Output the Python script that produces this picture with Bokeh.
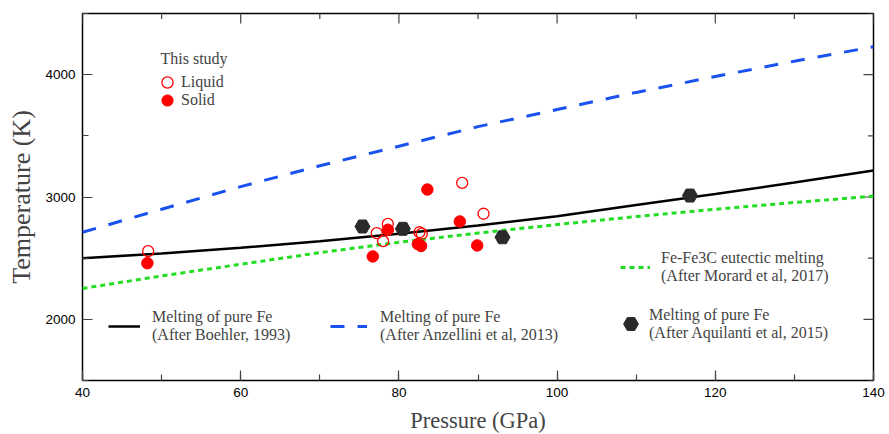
import math
from bokeh.plotting import figure
from bokeh.models import Range1d, SingleIntervalTicker, Legend, LegendItem, ColumnDataSource, Label
from bokeh.embed import file_html
from bokeh.resources import INLINE

# ---- data ----
curve_p = [40, 50, 60, 70, 80, 90, 100, 110, 120, 130, 140]
boehler_t = [2500, 2539, 2585, 2639, 2699, 2767, 2843, 2935, 3025, 3118, 3217]
anzellini_t = [2712, 2900, 3085, 3255, 3415, 3575, 3715, 3855, 3985, 4110, 4228]
morard_t = [2252, 2355, 2450, 2545, 2630, 2705, 2775, 2840, 2900, 2955, 3007]

liquid_p = [48.3, 77.2, 78.0, 78.6, 82.6, 82.9, 88.0, 90.7]
liquid_t = [2557, 2704, 2639, 2780, 2712, 2700, 3115, 2863]

solid_p = [48.2, 76.7, 78.6, 82.4, 82.8, 83.6, 87.7, 89.9]
solid_t = [2459, 2514, 2732, 2615, 2600, 3061, 2800, 2604]

aquilanti_p = [75.4, 80.5, 93.1, 116.8]
aquilanti_t = [2759, 2740, 2671, 3012]

x_major = [40, 60, 80, 100, 120, 140]
x_minor = [50, 70, 90, 110, 130]
y_major = [2000, 3000, 4000]
y_minor = [1500, 2500, 3500, 4500]
x_lo, x_hi = 40, 140
y_lo, y_hi = 1500, 4500

SERIF = "Liberation Serif"
SANS = "Liberation Sans"
TICK = "#444444"

p = figure(frame_width=791, frame_height=367, x_range=Range1d(x_lo, x_hi), y_range=Range1d(y_lo, y_hi),
           output_backend="svg", toolbar_location=None,
           min_border_left=82, min_border_right=16, min_border_top=13, min_border_bottom=54)
p.grid.visible = False
p.outline_line_color = "black"
p.outline_line_width = 1.5

def style_axis(ax):
    ax.axis_line_color = None
    ax.major_tick_in = 10
    ax.major_tick_out = 0
    ax.minor_tick_in = 6
    ax.minor_tick_out = 0
    ax.major_tick_line_color = TICK
    ax.minor_tick_line_color = TICK
    ax.major_tick_line_width = 1.2
    ax.minor_tick_line_width = 1.2
    ax.major_label_text_font = SANS
    ax.major_label_text_font_size = "13.5px"
    ax.major_label_text_color = "black"

xa = p.xaxis[0]
xa.ticker = SingleIntervalTicker(interval=20, num_minor_ticks=2)
style_axis(xa)
xa.major_label_standoff = 7
xa.axis_label = "Pressure (GPa)"
xa.axis_label_text_font = SERIF
xa.axis_label_text_font_style = "normal"
xa.axis_label_text_font_size = "22.5px"
xa.axis_label_standoff = 8

ya = p.yaxis[0]
ya.ticker = SingleIntervalTicker(interval=1000, num_minor_ticks=2)
style_axis(ya)
ya.major_label_standoff = 7
ya.axis_label = "Temperature (K)"
ya.axis_label_text_font = SERIF
ya.axis_label_text_font_style = "normal"
ya.axis_label_text_font_size = "26px"
ya.axis_label_standoff = 6

# inward ticks on the top and right edges (clipped half-dashes at the frame edge)
p.scatter(x_major, [y_hi] * len(x_major), marker="dash", angle=math.pi / 2, size=20,
          line_color=TICK, line_width=1.2)
p.scatter(x_minor, [y_hi] * len(x_minor), marker="dash", angle=math.pi / 2, size=11,
          line_color=TICK, line_width=1.2)
p.scatter([x_hi] * len(y_major), y_major, marker="dash", size=20, line_color=TICK, line_width=1.2)
p.scatter([x_hi] * len(y_minor), y_minor, marker="dash", size=11, line_color=TICK, line_width=1.2)

src_c = ColumnDataSource(dict(p=curve_p, b=boehler_t, a=anzellini_t, m=morard_t))
r_b = p.line("p", "b", source=src_c, line_color="black", line_width=2.5)
r_a = p.line("p", "a", source=src_c, line_color="#1a52f0", line_width=3, line_dash="14 13")
r_m = p.line("p", "m", source=src_c, line_color="#22dd22", line_width=3, line_dash="5 4")

r_aq = p.scatter(aquilanti_p, aquilanti_t, marker="hex", size=15, fill_color="#2a2a2a", line_color="#2a2a2a")
r_l = p.scatter(liquid_p, liquid_t, marker="circle", size=11, fill_color=None, line_color="red", line_width=1.3)
r_s = p.scatter(solid_p, solid_t, marker="circle", size=11.5, fill_color="red", line_color="red")

def mk_legend(label, r, loc, gw, gh, standoff):
    leg = Legend(items=[LegendItem(label=label, renderers=[r])], location=loc,
                 border_line_color=None, background_fill_alpha=0,
                 padding=0, margin=0, spacing=0, glyph_width=gw, glyph_height=gh,
                 label_standoff=standoff, label_text_font=SERIF, label_text_font_size="16px",
                 label_height=18)
    p.add_layout(leg)
    return leg

p.add_layout(Label(x=78, y=322, x_units="screen", y_units="screen", text="This study",
                   text_font=SERIF, text_font_size="16px", text_baseline="middle"))
mk_legend("Liquid", r_l, (71, 284), 28, 28, 0)
mk_legend("Solid", r_s, (71, 266), 28, 28, 0)
mk_legend("Melting of pure Fe\n(After Boehler, 1993)", r_b, (26, 36), 32, 18, 12)
mk_legend("Melting of pure Fe\n(After Anzellini et al, 2013)", r_a, (248, 36), 37, 18, 13)
mk_legend("Fe-Fe3C eutectic melting\n(After Morard et al, 2017)", r_m, (538, 95), 30, 18, 11)
mk_legend("Melting of pure Fe\n(After Aquilanti et al, 2015)", r_aq, (530, 38), 37, 37, 0)

open("out.html", "w").write(file_html(p, INLINE))
